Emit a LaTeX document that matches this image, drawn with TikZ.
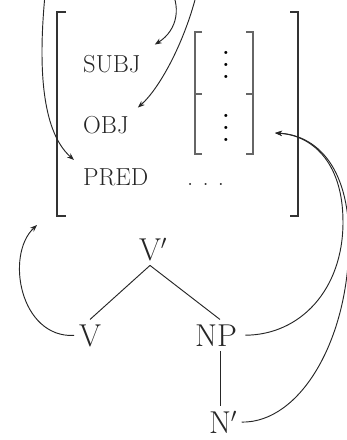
\documentclass[tikz,border=0pt]{standalone}
\usetikzlibrary{arrows.meta}

\tikzset{
  fsbracket/.style={line width=1.3pt, black!80},
  feat/.style={font=\fontsize{21}{25}\selectfont, inner sep=0pt, anchor=base west, black!85},
  cat/.style={font=\fontsize{27}{32}\selectfont, inner sep=4pt, anchor=base, black!85},
  branch/.style={line width=0.8pt, black!85},
  corr/.style={line width=0.8pt, black!85, -{Stealth[length=6pt, width=4.5pt]}},
}

\begin{document}
\begin{tikzpicture}[x=0.03cm, y=-0.03cm]
    \useasboundingbox (0,0) rectangle (347,440);
    \draw[fsbracket] (66,12) -- (57,12) -- (57,216) -- (66,216);
    \draw[fsbracket] (290,12) -- (298,12) -- (298,216) -- (290,216);
    \draw[fsbracket, black!60] (202,32) -- (195,32) -- (195,154) -- (202,154) (195,94) -- (202,94);
    \draw[fsbracket, black!60] (246,32) -- (253,32) -- (253,154) -- (246,154) (253,94) -- (246,94);
    \node[feat] (subj) at (83,72) {SUBJ};
    \node[feat] (obj) at (83,133) {OBJ};
    \node[feat] (pred) at (83,185) {PRED};
    \node[anchor=base, scale=2.5, inner sep=0pt] (subjval) at (226,78) {$\vdots$};
    \node[anchor=base, scale=2.5, inner sep=0pt] (objval) at (226,141) {$\vdots$};
    \node[feat] (predval) at (187,185) {.\kern7.8pt.\kern7.8pt.};
    \node[cat] (vbar) at (150,260) {V\rlap{$'$}};
    \node[cat] (v) at (90,346) {V};
    \node[cat] (np) at (216,346) {NP};
    \node[cat] (nbar) at (220,433) {N\rlap{$'$}};
    \draw[branch] (vbar.south) -- (v.north);
    \draw[branch] (vbar.south) -- (np.north -| nbar.north);
    \draw[branch] (np.south -| nbar.north) -- (nbar.north);
    \coordinate (srcsubj) at (168,-15);
    \coordinate (srcobj) at (198,-12);
    \coordinate (srcpred) at (46,-15);
    \coordinate (objslot) at (275,133);
    \coordinate (fstip) at (37,225);
    \draw[corr] (srcsubj) .. controls (182,5) and (178,30) .. ([shift={(14,-10)}]subj.north east);
    \draw[corr] (srcobj) .. controls (186,40) and (160,88) .. ([shift={(9,-8)}]obj.north east);
    \draw[corr] (srcpred) .. controls (38,60) and (40,130) .. ([shift={(-9,-8)}]pred.north west);
    \draw[corr] (v.west) .. controls (20,338) and (5,255) .. (fstip);
    \draw[corr] ([xshift=3pt]np.east) .. controls (300,335) and (343,290) .. (343,222) .. controls (343,160) and (310,135) .. (objslot);
    \draw[corr] ([xshift=5pt]nbar.east) .. controls (300,423) and (349,340) .. (349,240) .. controls (349,165) and (315,135) .. (objslot);
\end{tikzpicture}
\end{document}
